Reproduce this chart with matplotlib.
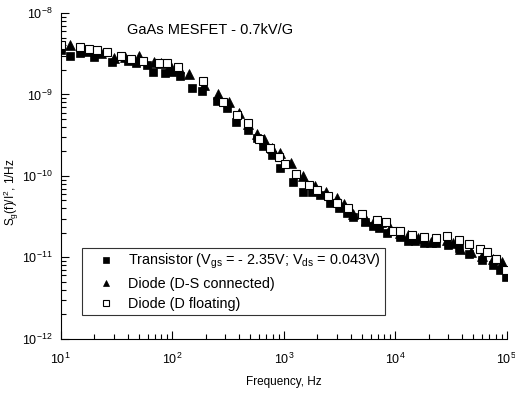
import numpy as np
import matplotlib
matplotlib.use('Agg')
import matplotlib.pyplot as plt
from matplotlib.ticker import LogLocator, NullFormatter

plt.rcParams['font.family'] = ['Liberation Sans', 'DejaVu Sans']
plt.rcParams['mathtext.fontset'] = 'custom'
plt.rcParams['mathtext.rm'] = 'Liberation Sans'
plt.rcParams['mathtext.it'] = 'Liberation Sans'

# Transistor (filled squares)
trans_f = [10, 12, 15, 20, 29, 40, 47, 59, 67, 86, 100, 117, 150, 183, 250, 310, 370, 475,
           570, 650, 780, 920, 1200, 1500, 1800, 2100, 2600, 3100, 3700, 4200, 5300, 6300,
           7200, 8500, 11000, 13000, 15000, 18000, 23000, 30000, 37000, 46000, 60000,
           75000, 87000, 98000]
trans_s = [3.5e-9, 3.0e-9, 3.2e-9, 2.9e-9, 2.5e-9, 2.6e-9, 2.4e-9, 2.3e-9, 1.9e-9, 1.85e-9,
           1.9e-9, 1.7e-9, 1.2e-9, 1.1e-9, 8.3e-10, 6.8e-10, 4.6e-10, 3.7e-10, 2.9e-10,
           2.3e-10, 1.8e-10, 1.25e-10, 8.5e-11, 6.3e-11, 6.3e-11, 5.8e-11, 4.6e-11, 4.0e-11,
           3.5e-11, 3.1e-11, 2.7e-11, 2.4e-11, 2.3e-11, 2.0e-11, 1.8e-11, 1.6e-11, 1.6e-11,
           1.5e-11, 1.5e-11, 1.4e-11, 1.3e-11, 1.1e-11, 9.3e-12, 8.0e-12, 7.0e-12, 5.8e-12]

# Diode D-S connected (triangles)
ds_f = [12, 17, 23, 30, 38, 50, 68, 80, 95, 115, 140, 192, 255, 320, 400, 480, 570, 660,
        780, 920, 1160, 1480, 1900, 2400, 3000, 3500, 4200, 5500, 6500, 7500, 9000, 11000,
        13000, 16000, 21000, 29000, 33000, 38000, 48000, 60000, 75000, 90000]
ds_s = [4.0e-9, 3.4e-9, 3.2e-9, 2.8e-9, 2.9e-9, 3.0e-9, 2.5e-9, 2.4e-9, 2.3e-9, 2.1e-9,
        1.8e-9, 1.3e-9, 1.0e-9, 8.0e-10, 6.0e-10, 4.3e-10, 3.3e-10, 2.8e-10, 2.2e-10,
        1.9e-10, 1.45e-10, 1.0e-10, 7.5e-11, 6.3e-11, 5.4e-11, 4.5e-11, 3.4e-11, 2.9e-11,
        2.8e-11, 2.7e-11, 2.3e-11, 2.0e-11, 1.9e-11, 1.75e-11, 1.55e-11, 1.65e-11, 1.5e-11,
        1.25e-11, 1.15e-11, 1.05e-11, 9.5e-12, 8.7e-12]

# Diode D floating (open squares)
fl_f = [10, 15, 18, 21, 26, 35, 43, 55, 76, 89, 112, 188, 283, 380, 475, 600, 760, 900,
        1020, 1280, 1700, 2000, 2500, 3000, 3800, 5000, 6800, 8300, 9500, 11000, 14000,
        18000, 23000, 29000, 37000, 46000, 57000, 67000, 80000, 98000]
fl_s = [4.1e-9, 3.8e-9, 3.6e-9, 3.5e-9, 3.3e-9, 3.0e-9, 2.75e-9, 2.6e-9, 2.4e-9, 2.4e-9,
        2.2e-9, 1.45e-9, 8.1e-10, 5.6e-10, 4.5e-10, 2.8e-10, 2.2e-10, 1.7e-10, 1.4e-10,
        1.05e-10, 7.8e-11, 6.8e-11, 5.6e-11, 4.7e-11, 4.0e-11, 3.4e-11, 2.9e-11, 2.7e-11,
        2.1e-11, 2.1e-11, 1.9e-11, 1.8e-11, 1.75e-11, 1.85e-11, 1.65e-11, 1.45e-11,
        1.25e-11, 1.15e-11, 9.5e-12, 7.0e-12]

labels = [r'Transistor (V$_{\rm gs}$ = - 2.35V; V$_{\rm ds}$ = 0.043V)',
          'Diode (D-S connected)', 'Diode (D floating)']

fig = plt.figure(figsize=(5.15, 3.94), dpi=100)
ax = fig.add_axes([0.118, 0.140, 0.866, 0.827])

ax.plot(trans_f, trans_s, 's', color='black', ms=5.8, mew=0.5, label=labels[0])
ax.plot(ds_f, ds_s, '^', color='black', ms=6.5, mew=0.5, label=labels[1])
ax.plot(fl_f, fl_s, 's', mfc='white', mec='black', ms=5.8, mew=0.8, label=labels[2])

ax.set_xscale('log')
ax.set_yscale('log')
ax.set_xlim(10, 1e5)
ax.set_ylim(1e-12, 1e-8)

ax.spines['top'].set_visible(False)
ax.spines['right'].set_visible(False)
ax.xaxis.set_minor_locator(LogLocator(base=10, subs=np.arange(2, 10), numticks=20))
ax.yaxis.set_minor_locator(LogLocator(base=10, subs=np.arange(2, 10), numticks=20))
ax.xaxis.set_minor_formatter(NullFormatter())
ax.yaxis.set_minor_formatter(NullFormatter())
ax.tick_params(which='major', direction='in', length=6, width=0.8, labelsize=9)
ax.tick_params(which='minor', direction='in', length=3.5, width=0.8)
ax.tick_params(axis='x', pad=9)
ax.tick_params(axis='y', pad=6)

ax.set_xlabel('Frequency, Hz', fontsize=8.5)
ax.xaxis.set_label_coords(0.5, -0.115)
ax.set_ylabel(r'S$_{\rm g}$(f)/I$^2$, 1/Hz', fontsize=8.5)
ax.yaxis.set_label_coords(-0.09, 0.45)

ax.text(0.148, 0.948, 'GaAs MESFET - 0.7kV/G', transform=ax.transAxes,
        fontsize=10.5, va='center', ha='left')

leg = ax.legend(loc='lower left', bbox_to_anchor=(0.047, 0.072), fontsize=10.4,
                frameon=True, fancybox=False, edgecolor='black', borderaxespad=0,
                handlelength=2.7, handletextpad=0.2, borderpad=0.3, labelspacing=0.4,
                markerscale=0.75)
leg.get_frame().set_linewidth(0.8)

fig.savefig('out.png', dpi=100)
